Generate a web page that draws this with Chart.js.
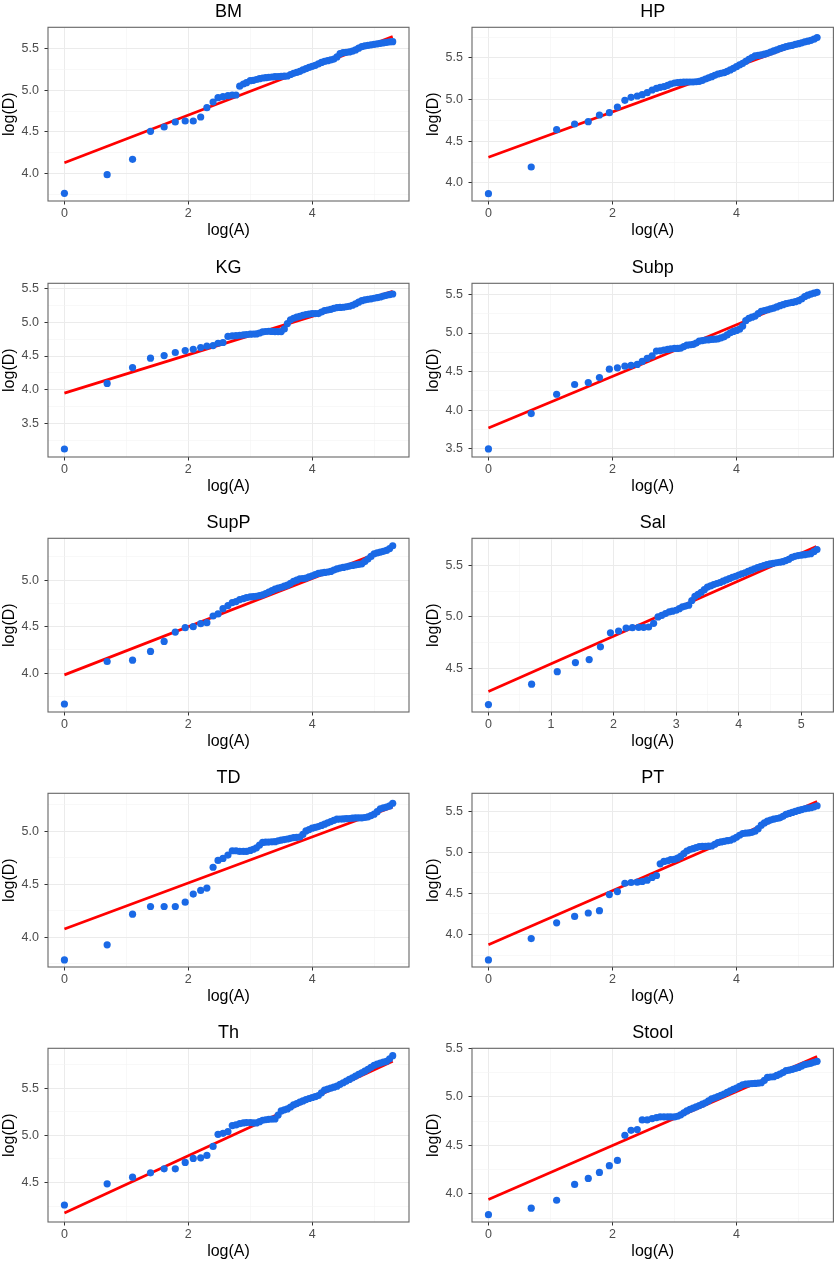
<!DOCTYPE html>
<html>
<head>
<meta charset="utf-8">
<title>log(D) vs log(A)</title>
<script src="https://cdn.jsdelivr.net/npm/chart.js@4.4.1/dist/chart.umd.min.js"></script>
<style>
  html, body { margin: 0; padding: 0; background: #fff; }
  body { position: relative; width: 837px; height: 1263px; overflow: hidden; }
  canvas { position: absolute; }
</style>
</head>
<body>
<script>
// Panel names, in reading order (left to right, top to bottom)
const panelNames = ['BM', 'HP', 'KG', 'Subp', 'SupP', 'Sal', 'TD', 'PT', 'Th', 'Stool'];

// log(A) positions shared by all panels
const logA = [0, 0.69, 1.10, 1.39, 1.61, 1.79, 1.95, 2.08, 2.20, 2.30, 2.40, 2.48, 2.56, 2.64, 2.71, 2.77, 2.83, 2.89, 2.94, 3.00,
  3.05, 3.1, 3.15, 3.2, 3.25, 3.3, 3.35, 3.4, 3.45, 3.5, 3.55, 3.6, 3.65, 3.7, 3.75, 3.8, 3.85, 3.9, 3.95, 4.0,
  4.05, 4.1, 4.15, 4.2, 4.25, 4.3, 4.35, 4.4, 4.45, 4.5, 4.55, 4.6, 4.65, 4.7, 4.75, 4.8, 4.85, 4.9, 4.95, 5.0,
  5.05, 5.1, 5.15, 5.2, 5.25, 5.3];

// log(D)
const bmD = [3.764, 3.988, 4.172, 4.508, 4.56, 4.62, 4.632, 4.632, 4.68, 4.792, 4.86, 4.912, 4.924, 4.936, 4.944, 4.944, 5.05, 5.076, 5.092, 5.116,
  5.12, 5.13, 5.14, 5.148, 5.152, 5.156, 5.16, 5.164, 5.166, 5.168, 5.17, 5.172, 5.19, 5.204, 5.215, 5.228, 5.245, 5.26, 5.275, 5.288,
  5.30, 5.316, 5.335, 5.348, 5.356, 5.364, 5.375, 5.40, 5.44, 5.452, 5.456, 5.46, 5.47, 5.484, 5.505, 5.524, 5.532, 5.54, 5.546, 5.552,
  5.558, 5.564, 5.57, 5.576, 5.58, 5.584];
const hpD = [3.872, 4.192, 4.64, 4.708, 4.736, 4.816, 4.844, 4.912, 4.992, 5.028, 5.044, 5.06, 5.084, 5.116, 5.136, 5.148, 5.156, 5.172, 5.188, 5.20,
  5.205, 5.208, 5.21, 5.212, 5.212, 5.212, 5.215, 5.22, 5.232, 5.248, 5.262, 5.276, 5.292, 5.308, 5.316, 5.324, 5.34, 5.356, 5.376, 5.396,
  5.416, 5.436, 5.46, 5.484, 5.505, 5.524, 5.53, 5.536, 5.546, 5.556, 5.57, 5.584, 5.598, 5.612, 5.624, 5.636, 5.644, 5.652, 5.662, 5.672,
  5.682, 5.692, 5.702, 5.712, 5.725, 5.745];
const kgD = [3.127, 4.095, 4.33, 4.468, 4.507, 4.552, 4.581, 4.60, 4.625, 4.645, 4.655, 4.689, 4.70, 4.79, 4.797, 4.80, 4.807, 4.812, 4.817, 4.822,
  4.825, 4.827, 4.84, 4.856, 4.862, 4.866, 4.864, 4.861, 4.861, 4.861, 4.90, 4.98, 5.035, 5.058, 5.075, 5.087, 5.10, 5.112, 5.12, 5.127,
  5.127, 5.127, 5.15, 5.171, 5.18, 5.19, 5.205, 5.215, 5.218, 5.22, 5.228, 5.235, 5.25, 5.269, 5.295, 5.318, 5.33, 5.338, 5.345, 5.353,
  5.362, 5.372, 5.385, 5.397, 5.408, 5.416];
const subpD = [3.5, 3.958, 4.208, 4.334, 4.36, 4.424, 4.532, 4.55, 4.571, 4.58, 4.593, 4.632, 4.671, 4.705, 4.766, 4.77, 4.779, 4.787, 4.796, 4.80,
  4.80, 4.805, 4.825, 4.843, 4.848, 4.852, 4.87, 4.895, 4.902, 4.908, 4.912, 4.917, 4.92, 4.925, 4.938, 4.951, 4.975, 5.003, 5.02, 5.033,
  5.05, 5.09, 5.16, 5.189, 5.205, 5.219, 5.25, 5.28, 5.29, 5.301, 5.312, 5.323, 5.338, 5.353, 5.366, 5.379, 5.388, 5.396, 5.405, 5.418,
  5.44, 5.47, 5.49, 5.504, 5.515, 5.526];
const suppD = [3.669, 4.126, 4.14, 4.234, 4.342, 4.442, 4.489, 4.50, 4.532, 4.543, 4.615, 4.637, 4.694, 4.727, 4.759, 4.77, 4.791, 4.802, 4.813, 4.82,
  4.824, 4.827, 4.834, 4.842, 4.856, 4.871, 4.887, 4.903, 4.914, 4.924, 4.935, 4.946, 4.966, 4.986, 5.0, 5.014, 5.018, 5.022, 5.035, 5.047,
  5.06, 5.072, 5.078, 5.083, 5.088, 5.094, 5.108, 5.122, 5.13, 5.137, 5.144, 5.151, 5.158, 5.165, 5.17, 5.176, 5.2, 5.227, 5.255, 5.284,
  5.293, 5.302, 5.31, 5.32, 5.34, 5.37];
const salD = [4.147, 4.346, 4.467, 4.556, 4.585, 4.709, 4.846, 4.863, 4.892, 4.895, 4.899, 4.899, 4.902, 4.938, 5.0, 5.016, 5.033, 5.049, 5.056, 5.065,
  5.08, 5.098, 5.106, 5.114, 5.16, 5.2, 5.22, 5.24, 5.265, 5.29, 5.302, 5.315, 5.325, 5.335, 5.348, 5.36, 5.372, 5.385, 5.396, 5.408,
  5.42, 5.43, 5.443, 5.455, 5.468, 5.48, 5.49, 5.5, 5.508, 5.516, 5.522, 5.527, 5.532, 5.538, 5.548, 5.56, 5.58, 5.59, 5.597, 5.602,
  5.606, 5.61, 5.615, 5.635, 5.655, null];
const tdD = [3.784, 3.927, 4.216, 4.289, 4.289, 4.289, 4.33, 4.406, 4.441, 4.463, 4.66, 4.724, 4.743, 4.775, 4.816, 4.816, 4.81, 4.81, 4.81, 4.819,
  4.83, 4.844, 4.87, 4.895, 4.897, 4.898, 4.90, 4.902, 4.91, 4.917, 4.922, 4.927, 4.933, 4.94, 4.943, 4.946, 4.97, 5.003, 5.016, 5.029,
  5.036, 5.044, 5.055, 5.067, 5.08, 5.092, 5.104, 5.114, 5.116, 5.117, 5.119, 5.121, 5.124, 5.127, 5.127, 5.127, 5.13, 5.137, 5.148, 5.162,
  5.185, 5.213, 5.222, 5.229, 5.24, 5.265];
const ptD = [3.69, 3.951, 4.143, 4.221, 4.262, 4.29, 4.487, 4.523, 4.625, 4.634, 4.638, 4.646, 4.662, 4.695, 4.719, 4.862, 4.891, 4.899, 4.912, 4.916,
  4.93, 4.952, 4.985, 5.018, 5.035, 5.046, 5.06, 5.071, 5.073, 5.075, 5.077, 5.079, 5.10, 5.12, 5.128, 5.136, 5.143, 5.149, 5.165, 5.185,
  5.21, 5.23, 5.235, 5.238, 5.245, 5.259, 5.29, 5.332, 5.36, 5.381, 5.395, 5.406, 5.414, 5.422, 5.44, 5.463, 5.476, 5.488, 5.50, 5.512,
  5.523, 5.533, 5.54, 5.545, 5.556, 5.569];
const thD = [4.262, 4.486, 4.557, 4.603, 4.645, 4.645, 4.713, 4.755, 4.762, 4.787, 4.883, 5.011, 5.021, 5.039, 5.103, 5.11, 5.124, 5.131, 5.135, 5.135,
  5.133, 5.131, 5.145, 5.16, 5.165, 5.17, 5.172, 5.174, 5.215, 5.259, 5.27, 5.28, 5.30, 5.323, 5.337, 5.351, 5.365, 5.379, 5.39, 5.401,
  5.41, 5.422, 5.45, 5.479, 5.49, 5.50, 5.51, 5.521, 5.54, 5.557, 5.575, 5.592, 5.61, 5.628, 5.645, 5.663, 5.68, 5.699, 5.72, 5.741,
  5.755, 5.766, 5.775, 5.784, 5.81, 5.844];
const stoolD = [3.786, 3.852, 3.934, 4.097, 4.159, 4.221, 4.29, 4.345, 4.603, 4.655, 4.662, 4.762, 4.762, 4.776, 4.786, 4.793, 4.793, 4.793, 4.793, 4.793,
  4.80, 4.814, 4.835, 4.855, 4.87, 4.883, 4.897, 4.91, 4.924, 4.938, 4.958, 4.979, 4.99, 5.003, 5.015, 5.028, 5.045, 5.062, 5.076, 5.09,
  5.107, 5.124, 5.13, 5.134, 5.136, 5.138, 5.141, 5.145, 5.17, 5.20, 5.204, 5.207, 5.22, 5.234, 5.25, 5.269, 5.276, 5.283, 5.293, 5.303,
  5.317, 5.331, 5.338, 5.345, 5.356, 5.366];

const panelD = [bmD, hpD, kgD, subpD, suppD, salD, tdD, ptD, thD, stoolD];

// fitted line ends (red)
const fitStart = [4.132, 4.308, 3.952, 3.772, 3.982, 4.275, 4.076, 3.874, 4.177, 3.941];
const fitEnd   = [5.645, 5.75, 5.455, 5.54, 5.355, 5.685, 5.23, 5.62, 5.784, 5.415];
const maxA     = [5.3, 5.3, 5.3, 5.3, 5.3, 5.24, 5.3, 5.3, 5.3, 5.3];

// axis ranges
const yMin = [3.672, 3.784, 3.009, 3.396, 3.583, 4.075, 3.717, 3.604, 4.082, 3.71];
const yMax = [5.756, 5.868, 5.574, 5.643, 5.45, 5.765, 5.359, 5.721, 5.922, 5.5];
const xMin = [-0.265, -0.265, -0.265, -0.265, -0.265, -0.2625, -0.265, -0.265, -0.265, -0.265];
const xMax = [5.563, 5.563, 5.563, 5.563, 5.563, 5.5125, 5.563, 5.563, 5.563, 5.563];
const xStep = [1, 1, 1, 1, 1, 0.5, 1, 1, 1, 1];
const xLabelEvery = [2, 2, 2, 2, 2, 1, 2, 2, 2, 2];

const rowTops = [0, 256, 511, 766, 1021];
const FONT = "'Liberation Sans', Arial, Helvetica, sans-serif";

Chart.defaults.font.family = FONT;

function isMultiple(v, m) {
  const r = v / m;
  return Math.abs(r - Math.round(r)) < 1e-6;
}

// frame around the plotting area, like theme_bw
const panelBox = {
  id: 'panelBox',
  afterDraw(chart) {
    const a = chart.chartArea;
    const ctx = chart.ctx;
    ctx.save();
    ctx.strokeStyle = '#666666';
    ctx.lineWidth = 1.1;
    ctx.strokeRect(a.left, a.top, a.right - a.left, a.bottom - a.top);
    ctx.restore();
  }
};

panelNames.forEach((name, i) => {
  const col = i % 2;
  const row = Math.floor(i / 2);
  const w = col === 0 ? 418 : 419;

  const canvas = document.createElement('canvas');
  canvas.width = w;
  canvas.height = 252;
  canvas.style.left = (col * 418) + 'px';
  canvas.style.top = rowTops[row] + 'px';
  canvas.style.width = w + 'px';
  canvas.style.height = '252px';
  document.body.appendChild(canvas);

  const ys = panelD[i];
  const pts = [];
  logA.forEach((x, k) => {
    if (ys[k] !== null) pts.push({ x: x, y: ys[k] });
  });

  const xMajor = v => isMultiple(v, xLabelEvery[i]);
  const yMajor = v => isMultiple(v, 0.5);

  new Chart(canvas.getContext('2d'), {
    type: 'scatter',
    data: {
      datasets: [{
        label: name,
        data: pts,
        pointRadius: 3.6,
        pointHoverRadius: 3.6,
        pointBackgroundColor: '#1a69e6',
        pointBorderWidth: 0,
        showLine: false,
        order: 0
      }, {
        label: 'fit',
        data: [{ x: 0, y: fitStart[i] }, { x: maxA[i], y: fitEnd[i] }],
        showLine: true,
        borderColor: '#ff0000',
        borderWidth: 2.7,
        pointRadius: 0,
        fill: false,
        order: 1
      }]
    },
    options: {
      responsive: false,
      animation: false,
      events: [],
      layout: { padding: { left: 0, right: col === 0 ? 9 : 2, top: 0, bottom: 0 } },
      plugins: {
        legend: { display: false },
        tooltip: { enabled: false },
        title: {
          display: true,
          text: name,
          color: '#000',
          fullSize: false,
          font: { size: 18, weight: 'normal', family: FONT },
          padding: { top: 1.5, bottom: 4.2 }
        }
      },
      scales: {
        x: {
          type: 'linear',
          min: xMin[i],
          max: xMax[i],
          afterBuildTicks: axis => {
            const t = [];
            for (let k = Math.ceil(xMin[i] / xStep[i]); k * xStep[i] <= xMax[i]; k++) t.push({ value: k * xStep[i] });
            axis.ticks = t;
          },
          afterFit: s => { s.height = 51; },
          ticks: {
            autoSkip: false,
            maxRotation: 0,
            padding: 1.6,
            color: '#4d4d4d',
            font: { size: 12.5 },
            callback: v => xMajor(v) ? String(Math.round(v)) : ''
          },
          grid: {
            color: c => (c.tick && xMajor(c.tick.value)) ? '#ebebeb' : '#f3f3f3',
            lineWidth: c => (c.tick && xMajor(c.tick.value)) ? 1 : 0.6,
            tickColor: c => (c.tick && xMajor(c.tick.value)) ? '#333333' : 'rgba(0,0,0,0)',
            tickLength: 3.5,
            tickWidth: 1
          },
          border: { display: false },
          title: {
            display: true,
            text: 'log(A)',
            color: '#000',
            font: { size: 16 },
            padding: { top: 0, bottom: 11.9 }
          }
        },
        y: {
          type: 'linear',
          min: yMin[i],
          max: yMax[i],
          afterBuildTicks: axis => {
            const t = [];
            for (let k = Math.ceil(yMin[i] * 4); k / 4 <= yMax[i]; k++) t.push({ value: k / 4 });
            axis.ticks = t;
          },
          afterFit: s => { s.width = col === 0 ? 48 : 54; },
          ticks: {
            autoSkip: false,
            padding: 5.5,
            color: '#4d4d4d',
            font: { size: 12.5 },
            callback: v => yMajor(v) ? v.toFixed(1) : ''
          },
          grid: {
            color: c => (c.tick && yMajor(c.tick.value)) ? '#ebebeb' : '#f3f3f3',
            lineWidth: c => (c.tick && yMajor(c.tick.value)) ? 1 : 0.6,
            tickColor: c => (c.tick && yMajor(c.tick.value)) ? '#333333' : 'rgba(0,0,0,0)',
            tickLength: 3.5,
            tickWidth: 1
          },
          border: { display: false },
          title: {
            display: true,
            text: 'log(D)',
            color: '#000',
            font: { size: 16 },
            padding: { top: col === 0 ? 0.1 : 5.9, bottom: 0 }
          }
        }
      }
    },
    plugins: [panelBox]
  });
});
</script>
</body>
</html>
